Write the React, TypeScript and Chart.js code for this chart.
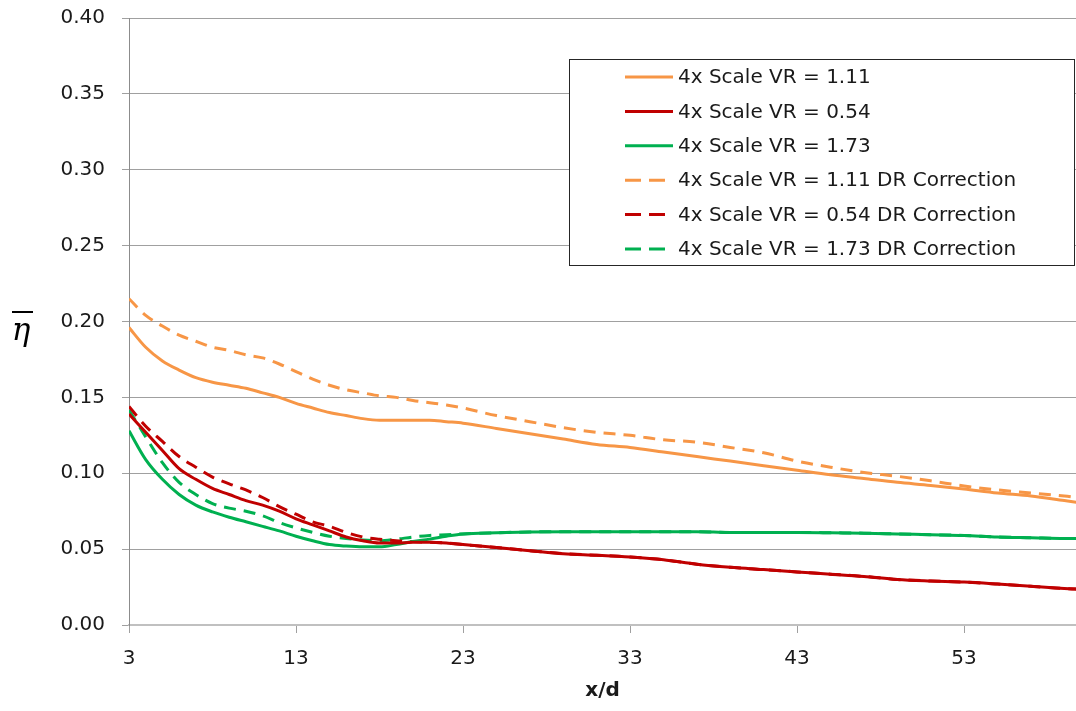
import React, { useEffect, useRef } from 'react';
import { Chart, registerables } from 'chart.js';

Chart.register(...registerables);

const xValues = [3, 4, 5, 6, 7, 8, 9, 10, 11, 12, 13, 14, 15, 16, 17, 18, 19, 20, 21, 22, 23, 25, 27, 29, 31, 33, 35, 37, 39, 41, 43, 45, 47, 49, 51, 53, 55, 57, 59, 60];

const vr111 = [0.196, 0.183, 0.174, 0.168, 0.163, 0.160, 0.158, 0.156, 0.153, 0.150, 0.146, 0.143, 0.140, 0.138, 0.136, 0.135, 0.135, 0.135, 0.135, 0.134, 0.133, 0.1295, 0.126, 0.1225, 0.119, 0.117, 0.114, 0.111, 0.108, 0.105, 0.102, 0.099, 0.0965, 0.094, 0.092, 0.0896, 0.087, 0.085, 0.082, 0.0805];
const vr054 = [0.139, 0.127, 0.115, 0.103, 0.096, 0.090, 0.086, 0.082, 0.079, 0.075, 0.070, 0.066, 0.062, 0.058, 0.0555, 0.054, 0.054, 0.0545, 0.0545, 0.054, 0.053, 0.051, 0.049, 0.047, 0.046, 0.0448, 0.043, 0.040, 0.038, 0.0365, 0.035, 0.0335, 0.032, 0.030, 0.029, 0.0283, 0.027, 0.0255, 0.024, 0.0235];
const vr173 = [0.128, 0.109, 0.096, 0.086, 0.079, 0.0745, 0.071, 0.068, 0.065, 0.062, 0.0585, 0.0555, 0.053, 0.052, 0.0515, 0.0515, 0.053, 0.055, 0.0566, 0.0585, 0.060, 0.0608, 0.0613, 0.0615, 0.0615, 0.0615, 0.0615, 0.0615, 0.061, 0.061, 0.061, 0.0608, 0.0605, 0.060, 0.0595, 0.059, 0.058, 0.0575, 0.057, 0.057];
const vr111DR = [0.215, 0.204, 0.197, 0.191, 0.187, 0.183, 0.181, 0.178, 0.176, 0.172, 0.167, 0.162, 0.158, 0.155, 0.153, 0.151, 0.150, 0.148, 0.1465, 0.145, 0.143, 0.138, 0.134, 0.130, 0.127, 0.125, 0.122, 0.1205, 0.117, 0.1135, 0.108, 0.104, 0.1005, 0.098, 0.095, 0.0916, 0.089, 0.087, 0.085, 0.0835];
const vr054DR = [0.144, 0.131, 0.121, 0.111, 0.104, 0.0975, 0.093, 0.089, 0.084, 0.078, 0.073, 0.068, 0.065, 0.061, 0.058, 0.0565, 0.0555, 0.055, 0.0545, 0.054, 0.053, 0.051, 0.049, 0.047, 0.046, 0.0448, 0.043, 0.040, 0.038, 0.0365, 0.035, 0.0335, 0.032, 0.030, 0.029, 0.0283, 0.027, 0.0255, 0.024, 0.0235];
const vr173DR = [0.1417, 0.124, 0.107, 0.094, 0.086, 0.080, 0.077, 0.075, 0.072, 0.0675, 0.064, 0.061, 0.0585, 0.057, 0.056, 0.0555, 0.0565, 0.058, 0.059, 0.0595, 0.060, 0.0608, 0.0613, 0.0615, 0.0615, 0.0615, 0.0615, 0.0615, 0.061, 0.061, 0.061, 0.0608, 0.0605, 0.060, 0.0595, 0.059, 0.058, 0.0575, 0.057, 0.057];

const seriesLabels = [
  '4x Scale VR = 1.11',
  '4x Scale VR = 0.54',
  '4x Scale VR = 1.73',
  '4x Scale VR = 1.11 DR Correction',
  '4x Scale VR = 0.54 DR Correction',
  '4x Scale VR = 1.73 DR Correction',
];
const seriesValues = [vr111, vr054, vr173, vr111DR, vr054DR, vr173DR];
const seriesColors = ['#F79646', '#C00000', '#00B050', '#F79646', '#C00000', '#00B050'];
const seriesDashed = [false, false, false, true, true, true];

const xTicks = [3, 13, 23, 33, 43, 53];
const xTitle = 'x/d';
const yTitle = 'η';

const FONT = '"DejaVu Sans", sans-serif';

const boxLegend = {
  id: 'boxLegend',
  afterDraw(chart: any) {
    const ctx = chart.ctx;
    ctx.save();
    const x0 = 569, y0 = 59, w = 506, h = 207;
    ctx.fillStyle = '#ffffff';
    ctx.fillRect(x0, y0, w, h);
    ctx.strokeStyle = '#262626';
    ctx.lineWidth = 1;
    ctx.setLineDash([]);
    ctx.strokeRect(x0 + 0.5, y0 + 0.5, w - 1, h - 1);
    chart.data.datasets.forEach((ds: any, i: number) => {
      const y = 77 + i * 34.4;
      ctx.strokeStyle = ds.borderColor;
      ctx.lineWidth = 3;
      ctx.lineCap = 'butt';
      if (ds.borderDash && ds.borderDash.length) {
        ctx.setLineDash([16, 8]);
        ctx.beginPath();
        ctx.moveTo(625, y);
        ctx.lineTo(665, y);
        ctx.stroke();
      } else {
        ctx.setLineDash([]);
        ctx.beginPath();
        ctx.moveTo(625, y);
        ctx.lineTo(673, y);
        ctx.stroke();
      }
      ctx.setLineDash([]);
      ctx.fillStyle = '#1a1a1a';
      ctx.font = `20px ${FONT}`;
      ctx.textAlign = 'left';
      ctx.textBaseline = 'middle';
      ctx.fillText(ds.label, 678, y + 1);
    });
    ctx.restore();
  },
};

const etaTitle = {
  id: 'etaTitle',
  afterDraw(chart: any) {
    const ctx = chart.ctx;
    ctx.save();
    ctx.fillStyle = '#000';
    ctx.font = 'italic 31px "DejaVu Serif", serif';
    ctx.textAlign = 'center';
    ctx.textBaseline = 'alphabetic';
    ctx.fillText(yTitle, 21, 340);
    ctx.strokeStyle = '#000';
    ctx.lineWidth = 2;
    ctx.beginPath();
    ctx.moveTo(12, 312);
    ctx.lineTo(33, 312);
    ctx.stroke();
    ctx.restore();
  },
};

export default function App() {
  const ref = useRef<HTMLCanvasElement>(null);
  useEffect(() => {
    document.body.style.margin = '0';
    const canvas = ref.current!;
    const datasets = seriesValues.map((vals, i) => ({
      label: seriesLabels[i],
      data: vals.map((v, j) => ({ x: xValues[j], y: v })),
      borderColor: seriesColors[i],
      backgroundColor: seriesColors[i],
      borderWidth: 3,
      borderDash: seriesDashed[i] ? [12, 8] : [],
      pointRadius: 0,
      cubicInterpolationMode: 'monotone' as const,
      fill: false,
    }));
    const chart = new Chart(canvas, {
      type: 'line',
      data: { datasets },
      plugins: [boxLegend, etaTitle],
      options: {
        animation: false,
        responsive: false,
        devicePixelRatio: 1,
        layout: { padding: { top: 18, right: 0, left: 0, bottom: 0 } },
        plugins: { legend: { display: false }, tooltip: { enabled: false } },
        scales: {
          x: {
            type: 'linear',
            min: 3,
            max: 59.7,
            afterBuildTicks: (scale: any) => {
              scale.ticks = xTicks.map((v) => ({ value: v }));
            },
            afterFit: (scale: any) => {
              scale.height = 86;
              scale.paddingLeft = 0;
              scale.paddingRight = 0;
            },
            grid: { drawOnChartArea: false, drawTicks: true, tickLength: 8, color: '#a0a0a0' },
            border: { color: '#c0c0c0', width: 2 },
            ticks: {
              font: { family: FONT, size: 20 },
              color: '#1a1a1a',
              padding: 14,
              maxRotation: 0,
              autoSkip: false,
              callback: (v: any) => String(v),
            },
            title: {
              display: true,
              text: xTitle,
              font: { family: FONT, size: 20, weight: 'bold' },
              color: '#1a1a1a',
              padding: { top: 0, bottom: 8 },
            },
          },
          y: {
            min: 0,
            max: 0.4,
            afterFit: (scale: any) => {
              scale.width = 129;
              scale.paddingTop = 0;
              scale.paddingBottom = 0;
            },
            grid: { color: '#a0a0a0', tickLength: 7, lineWidth: 1 },
            border: { color: '#8c8c8c', width: 1 },
            ticks: {
              stepSize: 0.05,
              font: { family: FONT, size: 20 },
              color: '#1a1a1a',
              padding: 17,
              callback: (v: any) => Number(v).toFixed(2),
            },
          },
        },
      },
    });
    return () => chart.destroy();
  }, []);
  return (
    <div style={{ width: 1076, height: 711, position: 'relative' }}>
      <canvas ref={ref} width={1076} height={711} style={{ display: 'block', width: 1076, height: 711 }} />
    </div>
  );
}
